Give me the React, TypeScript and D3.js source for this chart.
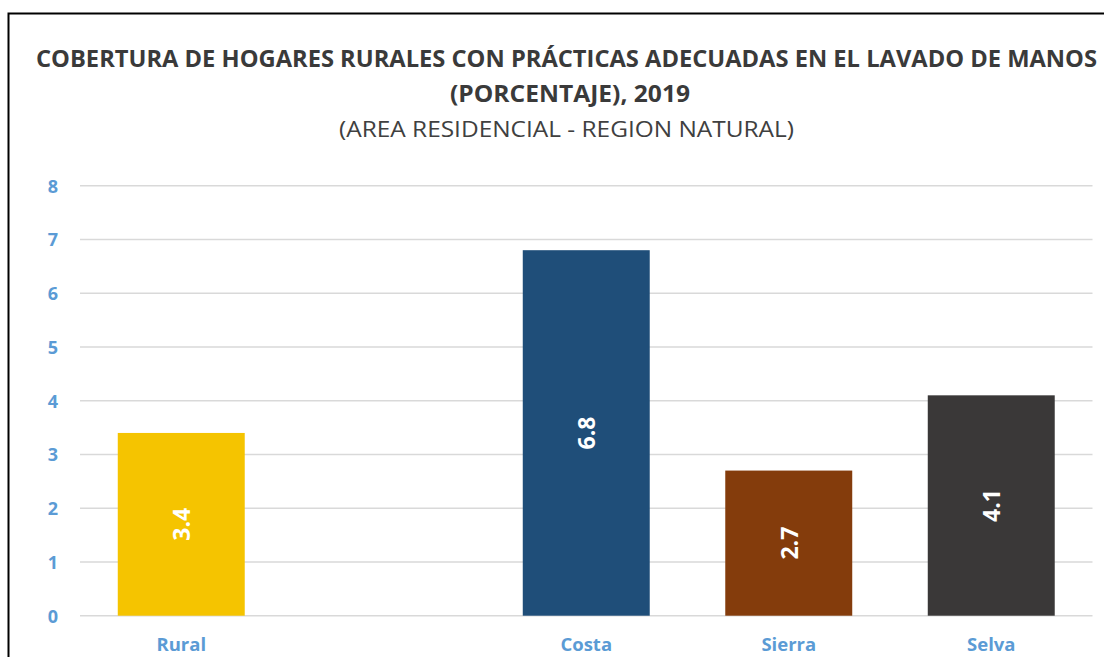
import React from "react";
import * as d3 from "d3";

const categories = ["Rural", "", "Costa", "Sierra", "Selva"];
const values: (number | null)[] = [3.4, null, 6.8, 2.7, 4.1];
const barColors = ["#F5C400", "none", "#1F4E79", "#843C0C", "#3A3838"];
const yTicks = [0, 1, 2, 3, 4, 5, 6, 7, 8];
const titleLine1 = "COBERTURA DE HOGARES RURALES CON PRÁCTICAS ADECUADAS EN EL LAVADO DE MANOS";
const titleLine2 = "(PORCENTAJE), 2019";
const subtitle = "(AREA RESIDENCIAL - REGION NATURAL)";

const W = 1104;
const H = 657;
const FONT = "'Open Sans', 'DejaVu Sans', sans-serif";

export default function App() {
  const x = d3
    .scaleBand<string>()
    .domain(categories.map((c, i) => c + "#" + i))
    .range([80, 1092.5])
    .paddingInner(0.373)
    .paddingOuter(0.1865);
  const y = d3.scaleLinear().domain([0, 8]).range([615.7, 185.7]);

  return (
    <svg
      width={W}
      height={H}
      style={{ position: "absolute", left: 0, top: 0, background: "#fff" }}
      fontFamily={FONT}
    >
      <rect x={0} y={0} width={W} height={H} fill="#fff" />
      <rect x={8.5} y={13.5} width={W + 20} height={H + 20} fill="none" stroke="#000" strokeWidth={2} />

      <text x={566.5} y={67} textAnchor="middle" fontWeight="bold" fontSize={23} fill="#3a3a3a" textLength={1061} lengthAdjust="spacingAndGlyphs">
        {titleLine1}
      </text>
      <text x={570} y={102} textAnchor="middle" fontWeight="bold" fontSize={23} fill="#3a3a3a" textLength={240} lengthAdjust="spacingAndGlyphs">
        {titleLine2}
      </text>
      <text x={566.5} y={137} textAnchor="middle" fontSize={21} fill="#404040" textLength={455} lengthAdjust="spacingAndGlyphs">
        {subtitle}
      </text>

      {yTicks.map((t) => (
        <g key={t}>
          <line x1={80} x2={1092.5} y1={y(t)} y2={y(t)} stroke="#D9D9D9" strokeWidth={1.5} />
          <text x={58} y={y(t)} textAnchor="end" dominantBaseline="central" fontWeight="bold" fontSize={18} fill="#5B9BD5">
            {t}
          </text>
        </g>
      ))}

      {categories.map((c, i) => {
        const key = c + "#" + i;
        const v = values[i];
        const bx = x(key)!;
        const bw = x.bandwidth();
        const cx = bx + bw / 2;
        return (
          <g key={key}>
            {v !== null && (
              <>
                <rect x={bx} y={y(v)} width={bw} height={y(0) - y(v)} fill={barColors[i]} />
                <text
                  transform={`translate(${cx},${(y(v) + y(0)) / 2}) rotate(-90)`}
                  textAnchor="middle"
                  dominantBaseline="central"
                  fontWeight="bold"
                  fontSize={23}
                  fill="#fff"
                >
                  {v.toFixed(1)}
                </text>
              </>
            )}
            {c && (
              <text x={cx} y={651} textAnchor="middle" fontWeight="bold" fontSize={18.5} fill="#5B9BD5">
                {c}
              </text>
            )}
          </g>
        );
      })}
    </svg>
  );
}
